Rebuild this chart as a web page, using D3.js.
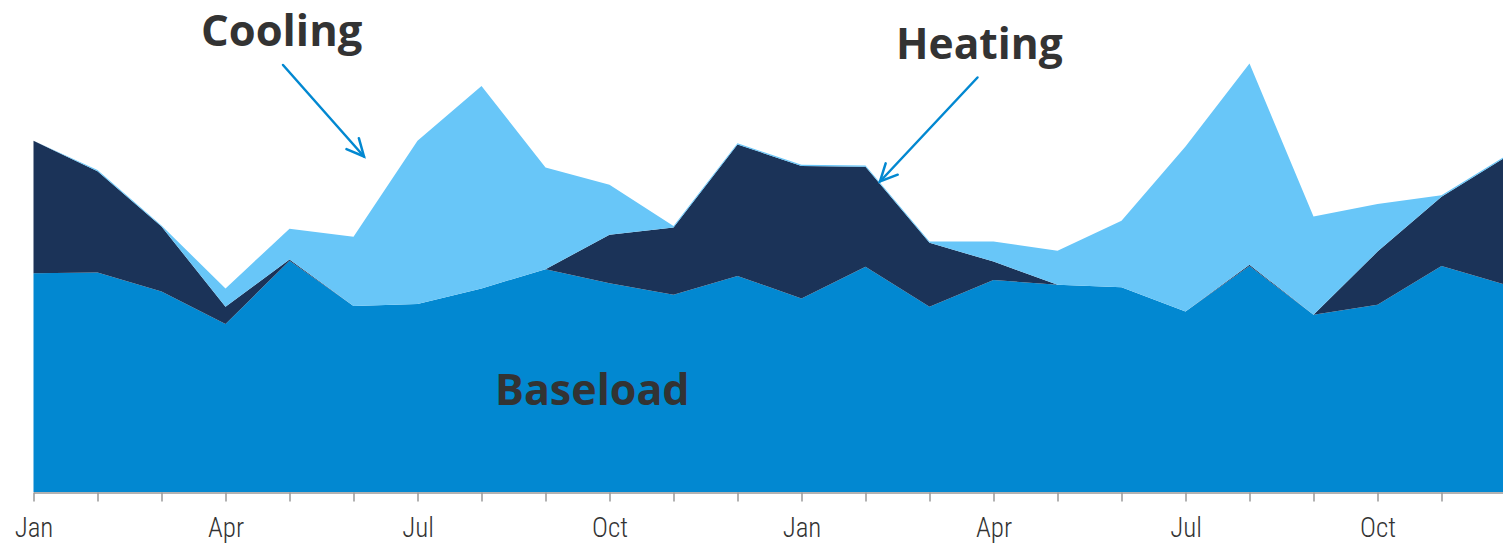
<!DOCTYPE html>
<html>
<head>
<meta charset="utf-8">
<script src="https://cdn.jsdelivr.net/npm/d3@7"></script>
<style>
html,body{margin:0;padding:0;background:#fff;overflow:hidden;}
svg{display:block;}
.lbl{font-family:"Open Sans","Lato",sans-serif;font-weight:700;fill:#333;}
.tick text{font-family:"Liberation Sans Narrow","Roboto Condensed","Roboto",sans-serif;font-stretch:condensed;font-weight:300;}
</style>
</head>
<body>
<svg id="chart" width="1503" height="544"></svg>
<script>
const months = ["Jan","Feb","Mar","Apr","May","Jun","Jul","Aug","Sep","Oct","Nov","Dec",
                "Jan","Feb","Mar","Apr","May","Jun","Jul","Aug","Sep","Oct","Nov","Dec"];
const tickLabels = ["Jan","","","Apr","","","Jul","","","Oct","","","Jan","","","Apr","","","Jul","","","Oct","",""];
const baseload = [54.7,54.9,50.1,42.0,57.8,46.5,47.0,50.9,55.7,52.2,49.3,54.0,
                  48.4,56.3,46.3,53.0,51.8,51.2,45.1,56.5,44.3,46.8,56.5,51.8];
const heating  = [33.1,25.3,16.3,4.3,0.3,0,0,0,0,12.1,16.8,32.9,
                  33.1,25.0,16.0,4.6,0,0,0,0.3,0,13.3,17.3,31.9];
const cooling  = [0,0.3,0.2,4.6,7.7,17.3,40.8,50.6,25.4,12.5,0.4,0.3,
                  0.3,0.3,0.3,5.0,8.5,16.6,41.3,50.3,24.6,11.9,0.4,0.3];
const seriesNames = ["Baseload","Heating","Cooling"];
const colors = {Baseload:"#0288D1", Heating:"#1B3358", Cooling:"#68C6F8"};

const svg = d3.select("#chart");
const x = d3.scaleLinear().domain([0, months.length - 1]).range([33.5, 33.5 + 64 * 23]);
const y = d3.scaleLinear().domain([0, 110]).range([492, 52]);

const rows = months.map((m, i) => ({i, Baseload: baseload[i], Heating: heating[i], Cooling: cooling[i]}));
const stack = d3.stack().keys(seriesNames);
const layers = stack(rows);

const area = d3.area()
  .x(d => x(d.data.i))
  .y0(d => y(d[0]))
  .y1(d => y(d[1]));

svg.append("g").selectAll("path")
  .data(layers)
  .join("path")
  .attr("d", area)
  .attr("fill", d => colors[d.key]);

// axis
const axis = d3.axisBottom(x)
  .tickValues(d3.range(months.length))
  .tickFormat(i => tickLabels[i])
  .tickSize(9)
  .tickSizeOuter(0)
  .tickPadding(16);
const gAxis = svg.append("g").attr("transform", "translate(0,492.5)").call(axis);
gAxis.select(".domain").attr("stroke", "#999").attr("stroke-width", 1.5);
gAxis.selectAll(".tick line").attr("stroke", "#999").attr("stroke-width", 1.5);
gAxis.selectAll(".tick text").attr("fill", "#333").attr("font-size", 27);

// labels
svg.append("text").attr("class","lbl").attr("x", 201).attr("y", 46).attr("font-size", 43.5).text("Cooling");
svg.append("text").attr("class","lbl").attr("x", 896).attr("y", 59).attr("font-size", 42.5).text("Heating");
svg.append("text").attr("class","lbl").attr("x", 495).attr("y", 405).attr("font-size", 43).text("Baseload");

// arrows
function arrow(x1, y1, x2, y2) {
  const g = svg.append("g").attr("stroke", "#0288D1").attr("stroke-width", 2.5).attr("fill", "none").attr("stroke-linecap", "round");
  g.append("line").attr("x1", x1).attr("y1", y1).attr("x2", x2).attr("y2", y2);
  const ang = Math.atan2(y2 - y1, x2 - x1);
  const L = 19, spread = 0.45;
  const p1 = [x2 - L * Math.cos(ang - spread), y2 - L * Math.sin(ang - spread)];
  const p2 = [x2 - L * Math.cos(ang + spread), y2 - L * Math.sin(ang + spread)];
  g.append("path").attr("d", `M${p1[0]},${p1[1]}L${x2},${y2}L${p2[0]},${p2[1]}`);
}
arrow(283, 65, 364, 156.5);
arrow(977.5, 77.5, 880, 181.5);
</script>
</body>
</html>
